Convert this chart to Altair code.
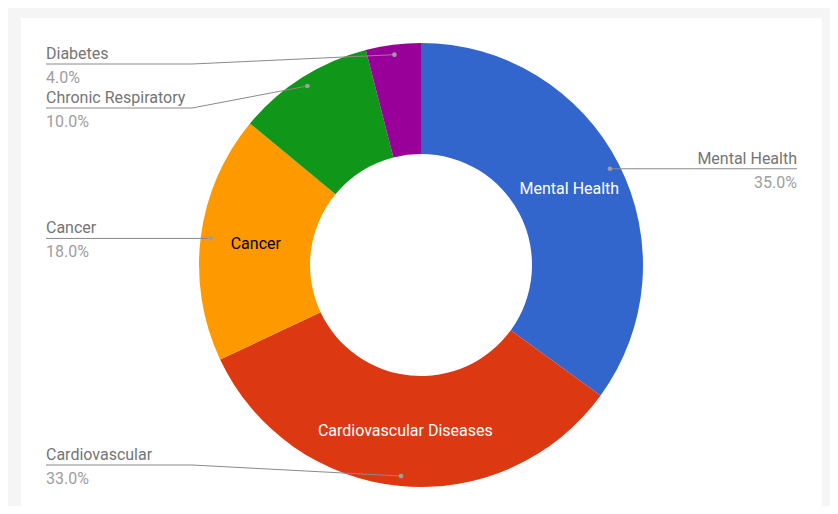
import math
import altair as alt
import pandas as pd

# ---- data ----
categories = ["Mental Health", "Cardiovascular Diseases", "Cancer", "Chronic Respiratory", "Diabetes"]
outside_labels = ["Mental Health", "Cardiovascular", "Cancer", "Chronic Respiratory", "Diabetes"]
values = [35.0, 33.0, 18.0, 10.0, 4.0]

# ---- styles / layout ----
colors = ["#3366cc", "#dc3912", "#ff9900", "#109618", "#990099"]
inside_colors = ["#ffffff", "#ffffff", "#000000", "#ffffff", "#ffffff"]
FONT = "Roboto"
FS = 16
W, H = 801, 488
CX, CY = 400, 247
R_OUT, R_IN = 222, 111
R_MID = (R_OUT + R_IN) / 2
R_DOT = 212
LEFT_X, RIGHT_X = 25, 776
ELBOW_OFF = 229
Y_MIN, Y_MAX, GAP = 46, 447, 44

total = sum(values)
rows = []
cum = 0.0
for i, (c, lab, v) in enumerate(zip(categories, outside_labels, values)):
    start = cum / total * 2 * math.pi
    cum += v
    end = cum / total * 2 * math.pi
    mid = (start + end) / 2
    dx = CX + R_DOT * math.sin(mid)
    dy = CY - R_DOT * math.cos(mid)
    rows.append(dict(
        idx=i, category=c, label=lab, value=v,
        pct=f"{v / total * 100:.1f}%",
        inside_label=c if v / total >= 0.15 else "",
        inside_color=inside_colors[i],
        dot_x=dx, dot_y=dy,
        side="right" if math.sin(mid) > 0 else "left",
    ))

# label placement: clamp and spread per side
for side in ["left", "right"]:
    srow = sorted([r for r in rows if r["side"] == side], key=lambda r: r["dot_y"])
    prev = None
    for r in srow:
        y = min(max(r["dot_y"], Y_MIN), Y_MAX)
        if prev is not None:
            y = max(y, prev + GAP)
        r["line_y"] = y
        prev = y
    for r in srow:
        if side == "left":
            r["elbow_x"] = CX - ELBOW_OFF
            r["end_x"] = LEFT_X
        else:
            r["elbow_x"] = CX + ELBOW_OFF
            r["end_x"] = RIGHT_X

df = pd.DataFrame(rows)

line_pts = []
for r in rows:
    line_pts.append(dict(category=r["category"], k=0, x=r["dot_x"], y=r["dot_y"]))
    line_pts.append(dict(category=r["category"], k=1, x=r["elbow_x"], y=r["line_y"]))
    line_pts.append(dict(category=r["category"], k=2, x=r["end_x"], y=r["line_y"]))
lines_df = pd.DataFrame(line_pts)

xs = alt.Scale(domain=[0, W], range=[0, W], nice=False, zero=False)
ys = alt.Scale(domain=[0, H], range=[0, H], nice=False, zero=False)

base = alt.Chart(df)

arcs = base.mark_arc(outerRadius=R_OUT, innerRadius=R_IN).encode(
    theta=alt.Theta("value:Q", stack=True),
    order=alt.Order("idx:Q"),
    color=alt.Color("category:N", scale=alt.Scale(domain=categories, range=colors), legend=None),
    x=alt.value(CX),
    y=alt.value(CY),
)

inside = base.mark_text(radius=R_MID, font=FONT, fontSize=FS).encode(
    theta=alt.Theta("value:Q", stack=True),
    order=alt.Order("idx:Q"),
    text="inside_label:N",
    color=alt.Color("inside_color:N", scale=None),
    x=alt.value(CX),
    y=alt.value(CY),
)

leaders = alt.Chart(lines_df).mark_line(color="#8a8a8a", strokeWidth=1).encode(
    x=alt.X("x:Q", scale=xs, axis=None),
    y=alt.Y("y:Q", scale=ys, axis=None),
    detail="category:N",
    order="k:Q",
)

dots = base.mark_circle(size=22, color="#9e9e9e", opacity=1).encode(
    x=alt.X("dot_x:Q", scale=xs, axis=None),
    y=alt.Y("dot_y:Q", scale=ys, axis=None),
)

def side_text(side, field, dy, color):
    return base.transform_filter(alt.datum.side == side).mark_text(
        font=FONT, fontSize=FS, align="left" if side == "left" else "right",
        baseline="alphabetic", dy=dy, color=color,
    ).encode(
        x=alt.X("end_x:Q", scale=xs, axis=None),
        y=alt.Y("line_y:Q", scale=ys, axis=None),
        text=f"{field}:N",
    )

texts = [
    side_text("left", "label", -5, "#757575"),
    side_text("right", "label", -5, "#757575"),
    side_text("left", "pct", 19, "#9e9e9e"),
    side_text("right", "pct", 19, "#9e9e9e"),
]

chart = alt.layer(arcs, inside, leaders, dots, *texts).properties(
    width=W, height=H,
    padding={"left": 13, "top": 10, "right": 8, "bottom": 0},
    autosize=alt.AutoSizeParams(type="none"),
    background="#f5f5f5",
).configure_view(fill="#ffffff", stroke=None)

chart.save("out.html", embed_options={"renderer": "svg", "actions": False})
